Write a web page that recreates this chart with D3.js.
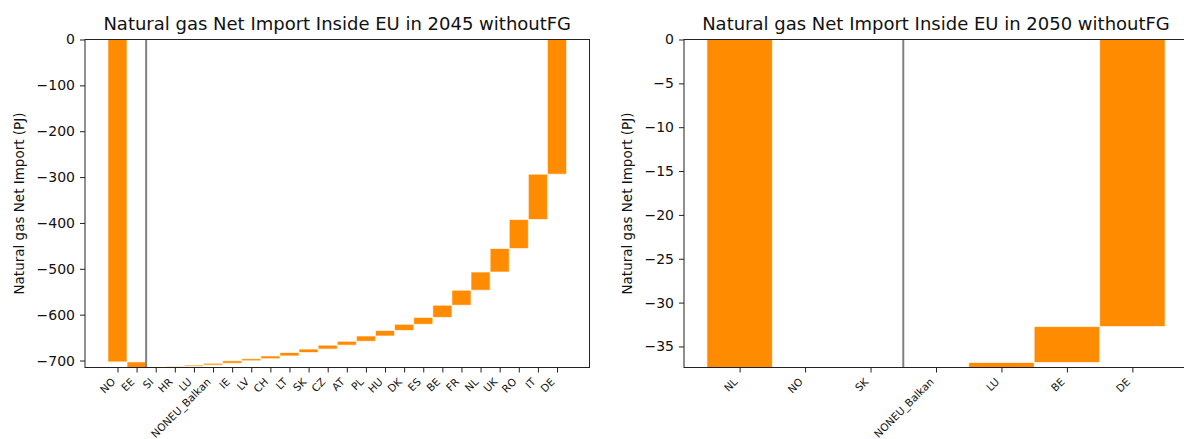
<!DOCTYPE html>
<html lang="en">
<head>
<meta charset="utf-8">
<script src="https://d3js.org/d3.v7.min.js"></script>
<style>
    body { margin: 0; background: #fff; font-family: "DejaVu Sans", sans-serif; }
    .tick text { font-family: "DejaVu Sans", sans-serif; }
</style>
</head>
<body>
<svg id="chart" width="1184" height="439"></svg>
<script>
    // 2045 chart: country order and net import change (PJ)
    var countries2045 = ["NO", "EE", "SI", "HR", "LU", "NONEU_Balkan", "IE", "LV", "CH", "LT", "SK", "CZ",
        "AT", "PL", "HU", "DK", "ES", "BE", "FR", "NL", "UK", "RO", "IT", "DE"];
    var values2045 = [-703, -12.2, 0, 2.2, 3, 4, 5.5, 4.5, 6, 7.5, 7.5, 8.5,
        8.5, 11.5, 12, 13.5, 15, 26.6, 32.7, 39.7, 51.2, 63.3, 98.8, 293.7];
    var ticks2045 = [0, -100, -200, -300, -400, -500, -600, -700];
    var split2045 = 1.5;

    // 2050 chart
    var countries2050 = ["NL", "NO", "SK", "NONEU_Balkan", "LU", "BE", "DE"];
    var values2050 = [-37.4, 0, 0, 0, 0.57, 4.1, 32.73];
    var ticks2050 = [0, -5, -10, -15, -20, -25, -30, -35];
    var split2050 = 2.5;

    var titles = ["Natural gas Net Import Inside EU in 2045 withoutFG",
        "Natural gas Net Import Inside EU in 2050 withoutFG"];

    var svg = d3.select("#chart");
    var barColor = "#ff8c00";

    function fmt(v) {
        return v < 0 ? "\u2212" + Math.abs(v) : String(v);
    }

    function drawPanel(cfg) {
        var n = cfg.names.length;
        var pad = 0.05 * n;
        var x = d3.scaleLinear().domain([-0.5 - pad, n - 0.5 + pad]).range([cfg.left, cfg.right]);

        // cumulative waterfall
        var run = 0;
        var bars = cfg.values.map(function (v, i) {
            var start = run;
            run += v;
            return {name: cfg.names[i], i: i, start: start, end: run};
        });
        var yMin = d3.min(bars, function (d) { return Math.min(d.start, d.end); });
        var y = d3.scaleLinear().domain([yMin, 0]).range([cfg.bottom, cfg.top]);

        var g = svg.append("g");

        var clipId = "clip" + cfg.id;
        svg.append("clipPath").attr("id", clipId)
            .append("rect")
            .attr("x", cfg.left).attr("y", cfg.top)
            .attr("width", cfg.right - cfg.left).attr("height", cfg.bottom - cfg.top);

        var plot = g.append("g").attr("clip-path", "url(#" + clipId + ")");

        plot.selectAll("rect.bar")
            .data(bars.filter(function (d) { return d.start !== d.end; }))
            .enter().append("rect")
            .attr("class", "bar")
            .attr("x", function (d) { return x(d.i - 0.5); })
            .attr("width", function (d) { return x(d.i + 0.5) - x(d.i - 0.5); })
            .attr("y", function (d) { return y(Math.max(d.start, d.end)); })
            .attr("height", function (d) { return Math.abs(y(d.start) - y(d.end)); })
            .attr("fill", barColor)
            .attr("stroke", "#fff")
            .attr("stroke-opacity", 0.65)
            .attr("stroke-width", 1);

        plot.append("line")
            .attr("x1", x(cfg.split)).attr("x2", x(cfg.split))
            .attr("y1", cfg.top).attr("y2", cfg.bottom)
            .attr("stroke", "#808080")
            .attr("stroke-width", 2);

        // y axis
        var yAxis = d3.axisLeft(y).tickValues(cfg.ticks).tickFormat(fmt).tickSize(5).tickPadding(5);
        var ya = g.append("g")
            .attr("transform", "translate(" + cfg.left + ",0)")
            .call(yAxis);
        ya.select(".domain").remove();
        ya.selectAll(".tick line").attr("stroke", "#222").attr("stroke-width", 1);
        ya.selectAll(".tick text").attr("font-size", 14).attr("fill", "#111");

        // x axis
        var xAxis = d3.axisBottom(x).tickValues(d3.range(n)).tickFormat(function (i) { return cfg.names[i]; })
            .tickSize(5).tickPadding(4);
        var xa = g.append("g")
            .attr("transform", "translate(0," + cfg.bottom + ")")
            .call(xAxis);
        xa.select(".domain").remove();
        xa.selectAll(".tick line").attr("stroke", "#222").attr("stroke-width", 1);
        xa.selectAll(".tick text")
            .attr("font-size", 10.5)
            .attr("fill", "#111")
            .attr("text-anchor", "end")
            .attr("y", 0)
            .attr("dy", 0)
            .attr("transform", "translate(-2,15) rotate(-45)");

        // frame
        g.append("rect")
            .attr("x", cfg.left).attr("y", cfg.top)
            .attr("width", cfg.right - cfg.left).attr("height", cfg.bottom - cfg.top)
            .attr("fill", "none")
            .attr("stroke", "#222")
            .attr("stroke-width", 1);

        // title
        g.append("text")
            .attr("x", (cfg.left + cfg.right) / 2)
            .attr("y", 30)
            .attr("text-anchor", "middle")
            .attr("font-size", 18)
            .attr("fill", "#111")
            .text(cfg.title);

        // y label
        g.append("text")
            .attr("transform", "translate(" + cfg.labelX + "," + ((cfg.top + cfg.bottom) / 2) + ") rotate(-90)")
            .attr("text-anchor", "middle")
            .attr("font-size", 13.5)
            .attr("fill", "#111")
            .text("Natural gas Net Import (PJ)");
    }

    drawPanel({id: 1, names: countries2045, values: values2045, ticks: ticks2045, split: split2045,
        left: 85, right: 589.5, top: 39.5, bottom: 367.5, labelX: 24, title: titles[0]});
    drawPanel({id: 2, names: countries2050, values: values2050, ticks: ticks2050, split: split2050,
        left: 684, right: 1188, top: 39.5, bottom: 367.5, labelX: 632, title: titles[1]});
</script>
</body>
</html>
